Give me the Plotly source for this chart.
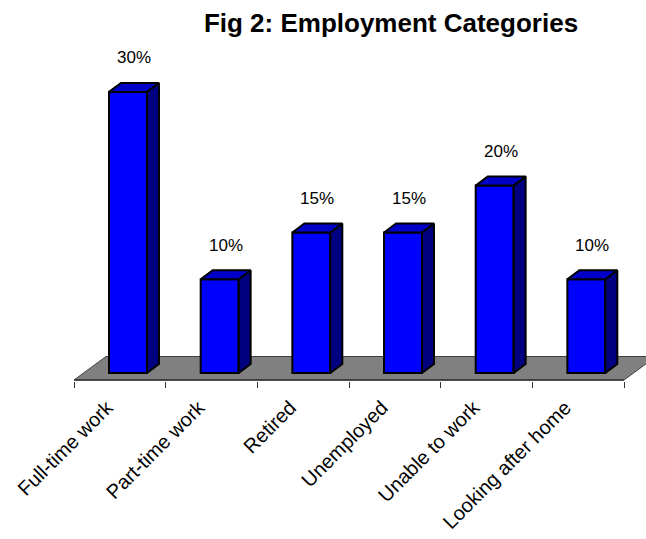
import plotly.graph_objects as go

# Employment categories and their shares (%)
categories = ["Full-time work", "Part-time work", "Retired", "Unemployed",
              "Unable to work", "Looking after home"]
shares = [30, 10, 15, 15, 20, 10]

FONT = "Liberation Sans, Arial, sans-serif"

# Plot geometry (pixel scale of the axes)
W, H = 646, 539
M_L, M_R, M_T, M_B = 74, 0, 40, 158
PX_PER_X = 91.67          # pixels per category slot
PX_PER_Y = 9.37           # pixels per percentage point
plot_w = W - M_L - M_R
plot_h = H - M_T - M_B
x_max = plot_w / PX_PER_X
y_min = -8 / PX_PER_Y
y_max = y_min + plot_h / PX_PER_Y

# 3-D depth offsets in data units
FLOOR_DX = 32 / PX_PER_X
FLOOR_DY = 23.5 / PX_PER_Y
FLOOR_FRONT = -7 / PX_PER_Y
BAR_DX = 12 / PX_PER_X
BAR_DY = 9 / PX_PER_Y
BAR_LEFT = 0.382
BAR_W = 0.414

n = len(categories)
fig = go.Figure()

# Grey floor slab under the bars
back = FLOOR_FRONT + FLOOR_DY
far = n + FLOOR_DX * 2
floor_path = (f"M0,{FLOOR_FRONT} L{n},{FLOOR_FRONT} "
              f"L{n + FLOOR_DX * 2},{FLOOR_FRONT + FLOOR_DY * 2} "
              f"L{far},{back} L{FLOOR_DX},{back} Z")
fig.add_shape(type="path", path=floor_path, xref="x", yref="y",
              fillcolor="#808080", line=dict(color="#404040", width=1),
              layer="below")
# front edge of the floor doubles as the category axis line
fig.add_shape(type="line", x0=0, x1=n, y0=FLOOR_FRONT, y1=FLOOR_FRONT,
              xref="x", yref="y", line=dict(color="#333333", width=1.6),
              layer="below")

# Front faces
fig.add_trace(go.Bar(
    x=[i + BAR_LEFT + BAR_W / 2 for i in range(n)], y=shares, width=BAR_W,
    marker=dict(color="#0000FF", line=dict(color="black", width=2)),
    hoverinfo="skip"))

# Side and top faces of each bar
for i, v in enumerate(shares):
    l = i + BAR_LEFT
    r = l + BAR_W
    fig.add_trace(go.Scatter(
        x=[r, r + BAR_DX, r + BAR_DX, r, r],
        y=[0, BAR_DY, v + BAR_DY, v, 0],
        fill="toself", fillcolor="#000080", mode="lines",
        line=dict(color="black", width=2), hoverinfo="skip"))
    fig.add_trace(go.Scatter(
        x=[l, l + BAR_DX, r + BAR_DX, r, l],
        y=[v, v + BAR_DY, v + BAR_DY, v, v],
        fill="toself", fillcolor="#0000C8", mode="lines",
        line=dict(color="black", width=2), hoverinfo="skip"))

# Value labels above the bars
for i, v in enumerate(shares):
    fig.add_annotation(
        x=i + BAR_LEFT + BAR_W / 2 + BAR_DX / 2, y=v + BAR_DY + 2.7,
        text=f"{v}%", showarrow=False, xanchor="center", yanchor="middle",
        font=dict(family=FONT, size=17, color="black"))

fig.update_layout(
    width=W, height=H, showlegend=False,
    margin=dict(l=M_L, r=M_R, t=M_T, b=M_B, pad=0, autoexpand=False),
    paper_bgcolor="white", plot_bgcolor="white",
    title=dict(text="<b>Fig 2: Employment Categories</b>",
               x=391 / W, xref="container", xanchor="center",
               y=1 - 23 / H, yref="container", yanchor="middle",
               font=dict(family=FONT, size=26, color="black")),
    xaxis=dict(range=[0, x_max], showgrid=False, zeroline=False,
               showline=False, tickmode="array", automargin=False,
               tickvals=[i + 0.36 for i in range(n)], ticktext=categories,
               ticks="", tickangle=-45, ticklabelstandoff=10,
               tickfont=dict(family=FONT, size=20, color="black"),
               minor=dict(tickmode="linear", tick0=0, dtick=1,
                          ticks="outside", ticklen=6, tickwidth=1,
                          tickcolor="#333333", showgrid=False)),
    yaxis=dict(range=[y_min, y_max], visible=False, automargin=False),
)

fig.write_html("out.html")
